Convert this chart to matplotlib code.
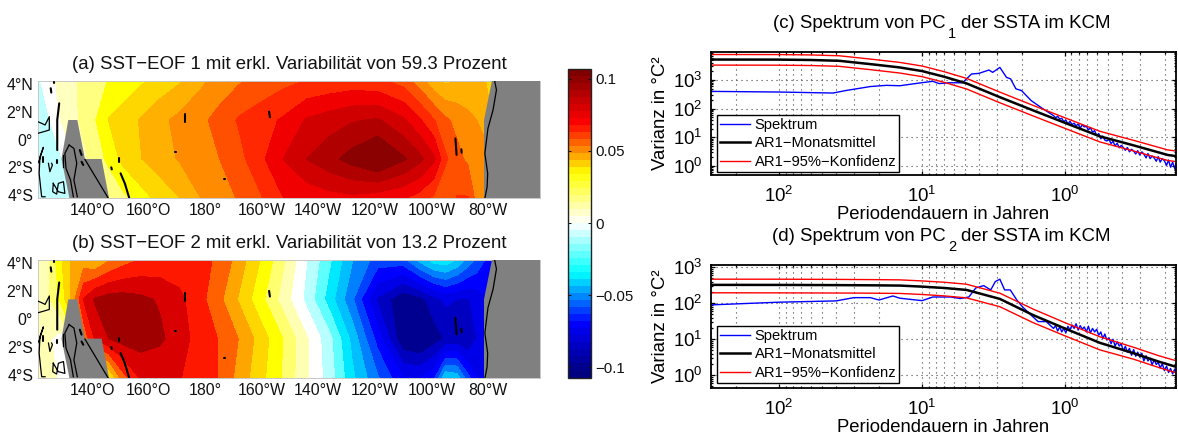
import numpy as np
import matplotlib
matplotlib.use("Agg")
import matplotlib.pyplot as plt
from matplotlib.colors import LinearSegmentedColormap, Normalize, ListedColormap
from matplotlib.cm import ScalarMappable
from matplotlib.patches import Polygon

plt.rcParams['font.family'] = ['Liberation Sans', 'DejaVu Sans']
plt.rcParams['mathtext.fontset'] = 'custom'
plt.rcParams['mathtext.rm'] = 'Liberation Sans'
plt.rcParams['axes.unicode_minus'] = True

W, H = 1178, 437

# ---- map data ----
lats = [-4.2, -1.4, 1.4, 4.2]
lons = [121,125,129,133,137,141,146,151,157,164,171,178,185,192,200,208,216,224,232,241,250,256,261,265,269,273,276,279,282,298]

eof1_s4 = [-.012,-.0098,-.0076,-.0047,.0012,.0068,.013,.020,.0274,.0345,.0404,.0492,.0542,.0594,.0670,.0769,.0795,.082,.0833,.0805,.0776,.0726,.0653,.0597,.068,.068,.0551,.048,.04,.04]
eof1_s1 = [-.013,-.0103,-.0056,.003,.0115,.017,.0250,.0342,.04,.0455,.0504,.0544,.0584,.0646,.0748,.086,.0947,.1008,.1073,.115,.105,.097,.0873,.069,.0612,.0566,.0545,.052,.05,.05]
eof1_n1 = [-.009,-.0046,.0049,.0105,.016,.0217,.032,.0359,.041,.0473,.052,.056,.0617,.0686,.073,.078,.0866,.0901,.0936,.0955,.0872,.0775,.0679,.0602,.0559,.0522,.0495,.047,.04,.04]
eof1_n4 = [-.006,.001,.0079,.012,.0155,.019,.023,.0257,.030,.0347,.0396,.0473,.053,.0575,.0614,.0650,.068,.0697,.071,.0695,.064,.0535,.043,.0387,.041,.0415,.042,.041,.03,.03]

eof2_s4 = [.012,.0085,.003,-.002,.01,.02,.035,.0638,.0795,.0795,.0792,.0742,.0676,.0537,.0394,.0240,.0062,-.0105,-.0343,-.0562,-.078,-.079,-.0694,-.0378,-.0408,-.0648,-.079,-.082,-.07,-.07]
eof2_s1 = [.012,.0065,-.001,.02,.06,.08,.0895,.0935,.0945,.0915,.083,.0748,.0676,.0573,.0419,.0253,.0063,-.0126,-.0399,-.0725,-.109,-.113,-.105,-.0985,-.097,-.1005,-.0893,-.078,-.07,-.07]
eof2_n1 = [.012,.0157,.0295,.051,.0793,.0905,.0945,.0945,.092,.088,.0812,.0720,.0603,.0460,.0287,.0103,-.0085,-.0315,-.0558,-.0909,-.1085,-.1035,-.0933,-.087,-.0895,-.09,-.085,-.08,-.07,-.07]
eof2_n4 = [.012,.0156,.0353,.0490,.0520,.0470,.0567,.0635,.0690,.0712,.0725,.0708,.0668,.0526,.0355,.0165,-.00525,-.0245,-.0465,-.0625,-.062,-.0435,-.0315,-.0295,-.0375,-.0510,-.060,-.0685,-.07,-.07]

levels_a = [-.0225,-.0135,-.0045,.0045,.0135,.0225,.0315,.0405,.0495,.0585,.0675,.0765,.0855,.0945,.1035,.1125,.125]
colors_a = ['#80ffff','#c0ffff','#ffffff','#ffffc0','#ffff80','#ffff00','#ffd700','#ffb000','#ff8c00',
            '#ff5000','#ff2800','#f00000','#d00000','#b00000','#8b0000','#8b0000']
levels_b = [-.125,-.11025,-.09975,-.08925,-.07875,-.06825,-.05775,-.04725,-.03675,-.02625,-.01575,-.00525,.00525,.01575,.02625,.03675,.04725,.05775,.06825,.07875,.08925,.09975,.11025]
colors_b = ['#000090','#000090','#0000c0','#0000e8','#0000ff','#0040ff','#0080ff','#00bfff','#00e8ff',
            '#60ffff','#b8ffff','#ffffff','#ffffb4','#ffff70','#ffff00','#ffd700','#ffa500','#ff6000',
            '#ff1800','#d80000','#a00000','#800000']

land_west_lon = [131.6,134.8,137.5,143.4,146,132,129.2]
land_west_lat = [1.4,1.4,-1.4,-1.4,-4.2,-4.2,-1.4]
land_east_lon = [281.4,278.6,278.6,298.4,298.4]
land_east_lat = [4.2,1.4,-4.2,-4.2,4.2]

coast_thin = [
    ([120.8,122.2,123.4,124.9,124.9,122.9,120.8],[1.28,1.16,1.04,1.64,.68,.56,.44]),
    ([120.8,121.4,122.8,121.6,121.3,121.8,122.2,123.4],[-1.71,-1.47,-.56,-1.23,-2.43,-3.39,-4.11,-4.11]),
    ([124.6,125.1,126,125.7],[-1.71,-2.31,-1.83,-1.71]),
    ([126.3,126.1,127.5,128.1,129.9,130.4,128.1,126.3],[-3.15,-3.75,-3.92,-3.15,-3.03,-3.87,-3.75,-3.15]),
    ([131.9,130.4,130.8,132.4,133.4],[-.4,-1.0,-2.07,-2.91,-4.11]),
    ([131.9,133.6,134.6,133.6,134.8],[-.4,-.64,-1.71,-2.91,-4.11]),
    ([137.5,145.8],[-1.43,-4.23]),
    ([282.4,283,281.8,280,278.9,279.9,279.7,278.9],[4.16,3.56,2.12,.8,-1,-2.43,-3.4,-4.23]),
    ([129.9,129.9],[-1.1,-1.95]),
]
coast_thick = [
    ([128.4,127.7,127.7],[2.6,1.4,-.76]),
    ([125.4,125.6],[3.68,3.37]),
    ([126.7,126.7],[4.16,4.04]),
    ([122.8,122.8],[-1.23,-1.6]),
    ([127.5,127.5],[-1.5,-1.7]),
    ([135.7,136.3],[-.76,-1.11]),
    ([136.3,136.9],[-1.6,-1.83]),
    ([149.6,149.6],[-1.35,-1.6]),
    ([146.8,147.0],[-2.0,-2.15]),
    ([150.1,151.6,153.2],[-2.43,-3.15,-4.23]),
    ([172.9,172.9],[1.83,1.28]),
    ([183.4,183.6],[.2,.2]),
    ([169.5,169.7],[-.88,-.88]),
    ([174.2,174.4],[-.71,-.71]),
    ([186.7,186.9],[-2.8,-2.8]),
    ([189,189.2],[-3.75,-3.75]),
    ([202.6,202.9],[2.0,1.6]),
    ([268.5,268.9],[.08,-1.1]),
    ([270.6,270.7],[-.7,-.95]),
]

lat_ticks = [4, 2, 0, -2, -4]
lat_labels = ['4°N', '2°N', '0°', '2°S', '4°S']
lon_ticks = [140, 160, 180, 200, 220, 240, 260, 280]
lon_labels = ['140°O', '160°O', '180°', '160°W', '140°W', '120°W', '100°W', '80°W']

# ---- spectra data ----
c_periods = [300,100,60,38,22,14.3,10,7,4.88,2.85,1.67,1,.57,.33,.19,.167]
c_ar1 = [5180,5150,5000,4680,3500,2740,2050,1300,760,251,87,32,10.8,5.2,2.4,2.2]
c_upper = [7760,7720,7500,7020,5250,4110,3080,1950,1140,376,130,48,16.2,7.8,3.6,3.3]
c_lower = [3310,3290,3200,3000,2240,1750,1310,830,486,160,55.7,20.5,6.9,3.3,1.54,1.41]

d_periods = [300,100,38,22,14.3,10,7,4.88,2.85,1.67,1,.57,.33,.22,.167]
d_ar1 = [323,322,318,314,309,289,265,234,132,47,20,8,4.1,2.4,1.73]
d_upper = [465,464,458,452,445,416,382,337,190,69,29,11.8,6,3.5,2.55]
d_lower = [195,194,192,190,187,175,160,141,80,29,12.5,5.1,2.8,1.65,1.18]

c_spec_p = [300,100,42,34,23,17.8,14.3,10.3,8.4,7.6,6.4,5.2,4.5,4,3.4,3.2,2.85,2.56,2.4,2.2,2.01,1.72,1.42]
c_spec_v = [400,380,350,430,590,650,630,790,900,750,800,800,1620,1700,2230,1850,2750,1230,1100,490,426,190,98]
d_spec_p = [300,100,40,30,23,20,16,14.3,10,8.4,6.3,5.4,4.7,4.2,3.7,3.3,3.07,2.85,2.64,2.41,2.17,1.97,1.68,1.54,1.35]
d_spec_v = [90,107,116,143,143,123,159,138,118,149,149,135,149,266,308,234,398,464,234,234,123,78,42.6,31,31]

noise_p = [1.2,1.161,1.123,1.086,1.051,1.017,.984,.952,.921,.891,.862,.834,.807,.781,.755,.731,.707,.684,.662,.640,.619,.599,.579,.560,.542,.525,.508,.491,.475,.460,.445,.430,.416,.403,.390,.377,.365,.353,.341,.330,.319,.309,.299,.289,.280,.270,.262,.253,.245,.237,.229,.222,.215,.208,.201,.194,.188,.182,.176,.170,.167]
c_noise = [57,48,54,43,46,35,40,29,36,28,31,25,29,21,27,23,24,18,22,15,17,11.5,13.5,8.8,11,8,7.4,8.4,6,7.2,5,6.2,4.3,5.2,4.4,3.5,4.4,3.1,3.8,3.3,2.6,3.4,2.4,3.1,2.6,1.9,2.7,1.8,2.2,1.9,1.45,2.1,1.35,1.8,1.5,1.05,1.6,.9,1.35,.8,1.15]
d_noise = [20,24,17,22,16,20,15,23,18,25,20,27,18,24,19,22,16,23,15,20,16,19,13,16,10.5,14,9.5,11,7.5,10,6.5,8.5,6.5,7.5,4.8,6.4,4.4,5.6,3.6,5.2,3.4,4.4,3.2,4.1,2.5,3.5,2.5,3,1.95,2.7,2,2.3,1.6,2.1,1.35,1.8,1.2,1.55,1.1,1.5,1.15]

# ---- colour scale ----
VMAX = 0.107
cmap = LinearSegmentedColormap.from_list('bwr_jet', [
    (0.0, '#000080'), (1/6, '#0000ff'), (1/3, '#00ffff'), (0.5, '#ffffff'),
    (2/3, '#ffff00'), (5/6, '#ff0000'), (1.0, '#800000')], N=256)
norm = Normalize(-VMAX, VMAX)

fig = plt.figure(figsize=(W/100, H/100), dpi=100)

def axes_px(l, t, r, b):
    return fig.add_axes([l/W, 1-b/H, (r-l)/W, (b-t)/H])

def draw_map(ax, rows, levels, colors, title):
    ax.contourf(lons, lats, np.array(rows), levels=levels, colors=colors)
    ax.add_patch(Polygon(list(zip(land_west_lon, land_west_lat)), color='#808080', lw=0, zorder=3))
    ax.add_patch(Polygon(list(zip(land_east_lon, land_east_lat)), color='#808080', lw=0, zorder=3))
    for x, y in coast_thin:
        ax.plot(x, y, color='k', lw=0.9, zorder=4)
    for x, y in coast_thick:
        ax.plot(x, y, color='k', lw=1.5, zorder=4, solid_capstyle='round')
    ax.set_xlim(120.9, 298.4)
    ax.set_ylim(-4.2, 4.2)
    ax.set_xticks(lon_ticks, lon_labels, fontsize=11.4)
    ax.set_yticks(lat_ticks, lat_labels, fontsize=11.4)
    ax.tick_params(length=0, pad=3.5, colors='#111111')
    for s in ax.spines.values():
        s.set_color('#c8c8c8')
        s.set_linewidth(0.7)
    ax.set_title(title, fontsize=13.4, pad=8.5, color='#111111')

ax_a = axes_px(38, 81, 540, 198)
draw_map(ax_a, [eof1_s4, eof1_s1, eof1_n1, eof1_n4], levels_a, colors_a,
         '(a) SST\u2212EOF 1 mit erkl. Variabilität von 59.3 Prozent')
ax_b = axes_px(38, 260, 540, 378)
draw_map(ax_b, [eof2_s4, eof2_s1, eof2_n1, eof2_n4], levels_b, colors_b,
         '(b) SST\u2212EOF 2 mit erkl. Variabilität von 13.2 Prozent')

# colour bar
cax = axes_px(568, 68.5, 591, 377.5)
band_cmap = ListedColormap(cmap(np.linspace(0, 1, 44)))
cb = fig.colorbar(ScalarMappable(norm=norm, cmap=band_cmap), cax=cax)
cb.set_ticks([.1, .05, 0, -.05, -.1], labels=['0.1', '0.05', '0', '\u22120.05', '\u22120.1'])
cb.ax.tick_params(direction='in', left=True, right=True, length=2.5, width=0.7, labelsize=10.8, pad=3, colors='#111111')
cb.ax.minorticks_off()
cb.outline.set_linewidth(1.0)
cb.outline.set_edgecolor('#222222')

def draw_spec(ax, periods, ar1, up, lo, sp, sv, nv, ylim, title_left, sub, title_right, leg_y):
    l1, = ax.plot(list(sp) + noise_p, list(sv) + nv, color='#0000ff', lw=1.0)
    l2, = ax.plot(periods, ar1, color='k', lw=1.8)
    l3, = ax.plot(periods, up, color='#ff0000', lw=1.0)
    ax.plot(periods, lo, color='#ff0000', lw=1.0)
    ax.set_xscale('log')
    ax.set_yscale('log')
    ax.set_xlim(300, 1/6)
    ax.set_ylim(*ylim)
    ax.set_xticks([100, 10, 1])
    ax.set_yticks([1, 10, 100, 1000])
    ax.grid(True, which='major', ls=(0, (1, 3.5)), lw=0.8, color='#444444')
    ax.grid(True, which='minor', axis='x', ls=(0, (1, 3.5)), lw=0.8, color='#444444')
    ax.tick_params(which='both', direction='in', top=True, right=True, width=0.9)
    ax.tick_params(which='major', length=3, labelsize=13.4, pad=6)
    ax.tick_params(which='major', axis='x', pad=8)
    ax.tick_params(which='minor', length=1.6)
    ax.yaxis.set_minor_locator(matplotlib.ticker.LogLocator(base=10, subs=np.arange(2, 10), numticks=12))
    ax.xaxis.set_minor_locator(matplotlib.ticker.LogLocator(base=10, subs=np.arange(2, 10), numticks=12))
    ax.xaxis.set_minor_formatter(matplotlib.ticker.NullFormatter())
    ax.yaxis.set_minor_formatter(matplotlib.ticker.NullFormatter())
    for s in ax.spines.values():
        s.set_linewidth(1.3)
    ax.set_xlabel('Periodendauern in Jahren', fontsize=13.3, labelpad=0.3)
    ax.set_ylabel('Varianz in °C²', fontsize=13.4, labelpad=3)
    ax.text((945.5 - 711) / 465, 1.193, title_left, transform=ax.transAxes, fontsize=13.4,
            ha='right', va='baseline')
    ax.text((961 - 711) / 465, 1.193, title_right, transform=ax.transAxes, fontsize=13.4,
            ha='left', va='baseline')
    ax.text((952 - 711) / 465, 1.15, sub, transform=ax.transAxes, fontsize=10.5,
            ha='center', va='center')
    leg = ax.legend([l1, l2, l3], ['Spektrum', 'AR1\u2212Monatsmittel', 'AR1\u221295%\u2212Konfidenz'],
                    loc='lower left', bbox_to_anchor=(0.0125, leg_y), borderaxespad=0,
                    fontsize=10.6, fancybox=False, framealpha=1, edgecolor='k',
                    labelspacing=0.3, handlelength=2.05, handletextpad=0.32, borderpad=0.2)
    leg.get_frame().set_linewidth(1.0)

ax_c = axes_px(711, 52, 1176, 174.5)
draw_spec(ax_c, c_periods, c_ar1, c_upper, c_lower, c_spec_p, c_spec_v, c_noise, (0.5, 9500),
          '(c) Spektrum von PC', '1', 'der SSTA im KCM', 0.023)
ax_d = axes_px(711, 265, 1176, 387.5)
draw_spec(ax_d, d_periods, d_ar1, d_upper, d_lower, d_spec_p, d_spec_v, d_noise, (0.46, 1150),
          '(d) Spektrum von PC', '2', 'der SSTA im KCM', 0.04)

fig.savefig('out.png', dpi=100)
